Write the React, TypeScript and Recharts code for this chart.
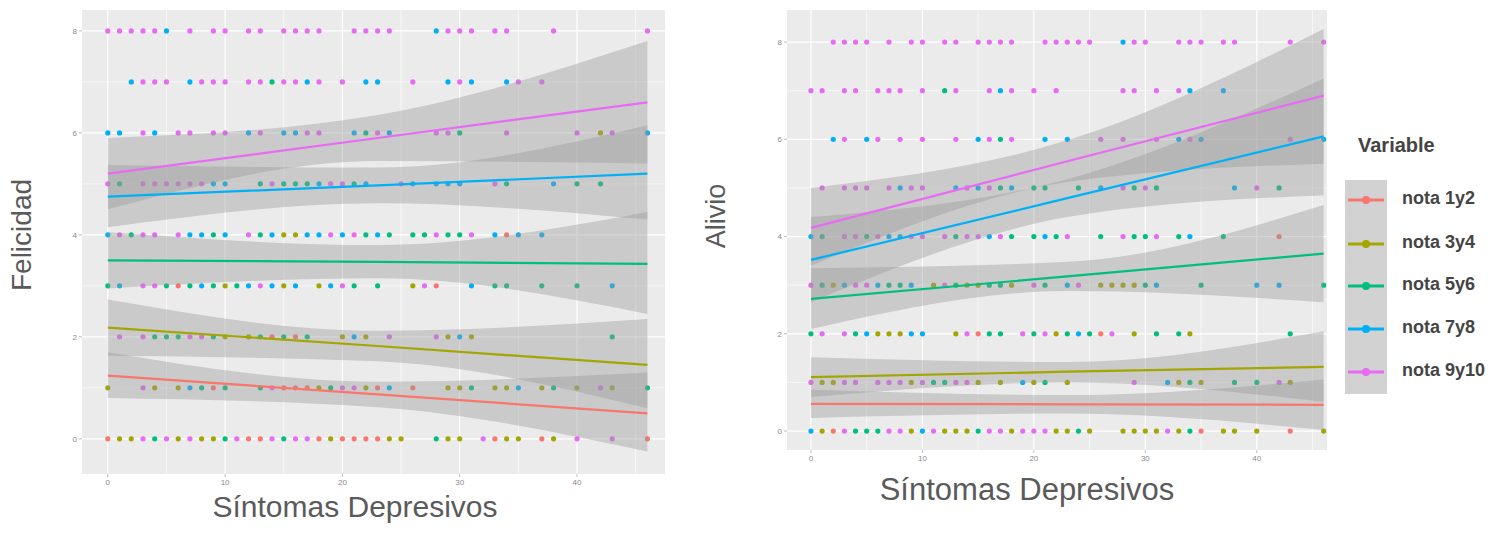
import React from "react";
import {
  ComposedChart,
  Scatter,
  Line,
  Area,
  XAxis,
  YAxis,
  CartesianGrid,
} from "recharts";

// Two ggplot-like panels: points by "Variable" + linear fits with confidence bands

const SERIES = ["nota 1y2", "nota 3y4", "nota 5y6", "nota 7y8", "nota 9y10"];
const KEYS = ["r", "o", "g", "b", "p"];
const COLORS = ["#F8766D", "#A3A500", "#00BF7D", "#00B0F6", "#E76BF3"];

const X_TICKS = [0, 10, 20, 30, 40];
const X_MINOR = [5, 15, 25, 35, 45];
const Y_TICKS = [0, 2, 4, 6, 8];
const Y_MINOR = [1, 3, 5, 7];

// points: "<síntomas><variable>" for each answer level
const felicidadRows: [number, string][] = [
  [8, "0p 1p 2p 3p 4p 5b 7p 9p 10p 12p 13p 15p 16p 17p 18p 21p 22p 23p 24p 28b 29p 30p 31p 33p 34p 38p 46p"],
  [7, "2b 3p 4p 5p 7b 8p 9p 10p 12p 13p 14g 15p 16p 17b 18p 20p 22b 23b 26p 29b 30p 31b 34b 35p 37p"],
  [6, "0b 1b 3p 4b 6p 7p 9p 10p 12b 13p 15b 16b 17p 18p 21b 22g 23p 24b 28p 29p 30g 34p 40p 42o 43p 46b"],
  [5, "0p 1g 3p 4p 5p 6p 7p 8p 9b 10b 13g 14p 15g 16g 17g 18b 19p 20p 21g 22b 25p 26b 28b 29b 30b 33p 34g 38b 40g 42g"],
  [4, "0b 1p 2g 3p 4p 6p 7b 8b 9g 10b 12p 13g 14b 15o 16o 17b 18b 19p 20b 21p 22g 23b 24g 26g 27g 28p 29g 30g 31p 33b 34r 35b 37b"],
  [3, "0g 1b 3p 4p 5g 6r 7g 8b 9g 10o 11g 12b 13p 14b 15o 16b 18o 19b 20p 21g 23g 26o 27p 28r 31b 33g 34g 37g 40g 43b"],
  [2, "1p 3p 4g 5g 6g 7p 8p 9g 10o 12o 13g 14r 15g 16r 17g 20o 21b 22o 24p 28p 29o 30b 31o 43g"],
  [1, "0o 3p 4o 6o 7b 8g 9r 10g 13g 14p 15r 16r 17r 18o 19g 20p 21p 22o 23r 24b 26r 29o 30o 31g 33o 34o 35b 37o 38g 40o 42p 43o 46g"],
  [0, "0r 1o 2o 3p 4g 5p 6o 7p 8o 9o 10g 11p 12r 13r 14p 15g 16p 17p 18r 19o 20r 21r 22r 23r 24o 25o 28g 29o 30o 32p 33r 34o 35o 37r 38o 40p 43p 46r"],
];

const alivioRows: [number, string][] = [
  [8, "2p 3p 4p 5p 7p 9p 10p 12p 13p 15p 16p 17p 18p 21p 22p 23p 24p 25p 28b 29p 30p 33p 34p 35p 37p 38p 43p 46p"],
  [7, "0p 1p 3p 4p 6p 7p 8p 10p 12g 13p 16p 17b 18p 20p 22p 28p 29p 31p 33p 34b 37b"],
  [6, "2b 3p 5b 6p 8p 10p 13p 15b 16p 17g 18p 21b 23b 26p 28p 31p 33b 34p 35b 43p 46b"],
  [5, "1p 3p 4p 5p 7p 8b 9p 10p 13b 14p 15b 16p 17g 18b 20g 21g 24g 26b 28p 29g 30p 31g 38b 40p 42g"],
  [4, "0b 1g 3p 4p 5g 6p 7b 8b 9p 10p 12p 13g 14p 15p 16b 17p 18g 20g 21b 22g 23p 26g 28p 29g 30g 31p 33g 34b 37g 42r"],
  [3, "0p 1g 2o 3b 4p 5p 6b 7g 8g 9b 11o 12p 13g 14o 15o 16g 17g 18o 20p 21g 23b 24p 26o 27o 28o 29o 30g 31b 35g 40b 42b 46g"],
  [2, "0g 1p 3p 4g 5b 6o 7o 8o 9b 10b 13o 14p 15r 16g 17g 19p 20g 21p 22o 23g 24b 25g 26r 27p 29o 31g 33g 34o 43g"],
  [1, "0p 1o 2o 3p 4p 6p 7p 8p 9o 10p 11g 12g 13p 14p 15o 17o 19b 20o 21g 23o 29p 32b 33o 34g 35o 38g 40g 42p 43o"],
  [0, "0b 1o 2r 3p 4g 5g 6g 7p 8p 9o 10b 11p 12o 13o 14o 15g 16p 17p 18o 19p 20p 21p 22o 23o 24g 25o 28o 29o 30o 31o 32p 33o 34g 35r 37o 38o 40o 43r 46o"],
];

// fitted lines and confidence bands read at síntomas = 0, 23, 46 (rows follow SERIES)
const FIT_X = [0, 23, 46];

const felicidadFit = [
  [1.24, 0.87, 0.5],
  [2.18, 1.82, 1.45],
  [3.5, 3.47, 3.43],
  [4.75, 4.97, 5.2],
  [5.2, 5.9, 6.6],
];
const felicidadLow = [
  [0.8, 0.62, -0.25],
  [1.63, 1.52, 0.6],
  [2.95, 3.15, 2.45],
  [4.15, 4.62, 4.3],
  [4.5, 5.45, 5.4],
];
const felicidadHigh = [
  [1.7, 1.12, 1.3],
  [2.73, 2.12, 2.35],
  [4.05, 3.8, 4.45],
  [5.37, 5.32, 6.15],
  [5.9, 6.35, 7.8],
];

const alivioFit = [
  [0.56, 0.55, 0.54],
  [1.11, 1.22, 1.32],
  [2.72, 3.18, 3.65],
  [3.52, 4.79, 6.06],
  [4.18, 5.55, 6.9],
];
const alivioLow = [
  [0.27, 0.36, 0.02],
  [0.7, 1.0, 0.6],
  [2.1, 2.88, 2.65],
  [2.65, 4.4, 4.85],
  [3.4, 5.12, 5.5],
];
const alivioHigh = [
  [0.85, 0.74, 1.06],
  [1.52, 1.42, 2.05],
  [3.35, 3.48, 4.65],
  [4.4, 5.18, 7.25],
  [5.0, 5.98, 8.27],
];

function splitPoints(rows: [number, string][]) {
  const all = rows.flatMap(([y, s]) =>
    s.split(" ").map((t) => ({ x: Number(t.slice(0, -1)), y, k: t.slice(-1) }))
  );
  return KEYS.map((k) => all.filter((d) => d.k === k));
}

function buildTable(fit: number[][], low: number[][], high: number[][]) {
  return FIT_X.map((x, i) => {
    const row: any = { x };
    KEYS.forEach((_, s) => {
      row[`fit${s}`] = fit[s][i];
      row[`band${s}`] = [low[s][i], high[s][i]];
    });
    return row;
  });
}

const tickStyle = { fontSize: 8, fill: "#8a8a8a", fontFamily: "Liberation Sans, Arial, sans-serif" };

function Panel({
  rows,
  fit,
  low,
  high,
  width,
  height,
  margin,
  xDomain,
  yDomain,
}: any) {
  const points = splitPoints(rows);
  const table = buildTable(fit, low, high);
  return (
    <ComposedChart width={width} height={height} data={table} margin={margin}>
      <CartesianGrid
        fill="#EBEBEB"
        stroke="#ffffff"
        strokeWidth={0.6}
        horizontalValues={Y_MINOR}
        verticalValues={X_MINOR}
      />
      <CartesianGrid stroke="#ffffff" strokeWidth={1.2} horizontalValues={Y_TICKS} verticalValues={X_TICKS} />
      <XAxis
        type="number"
        dataKey="x"
        domain={xDomain}
        ticks={X_TICKS}
        allowDataOverflow
        axisLine={false}
        tickSize={3}
        tickMargin={2}
        tickLine={{ stroke: "#bdbdbd" }}
        tick={tickStyle}
        height={20}
      />
      <YAxis
        type="number"
        domain={yDomain}
        ticks={Y_TICKS}
        allowDataOverflow
        axisLine={false}
        tickSize={3}
        tickMargin={2}
        tickLine={{ stroke: "#bdbdbd" }}
        tick={tickStyle}
        width={12}
      />
      {points.map((pts, s) => (
        <Scatter
          key={`pt${s}`}
          data={pts}
          dataKey="y"
          zIndex={50}
          isAnimationActive={false}
          shape={(p: any) => <circle cx={p.cx} cy={p.cy} r={2.6} fill={COLORS[s]} />}
        />
      ))}
      {KEYS.map((_, s) => (
        <Area
          key={`band${s}`}
          dataKey={`band${s}`}
          type="monotone"
          stroke="none"
          fill="#999999"
          fillOpacity={0.4}
          zIndex={100}
          isAnimationActive={false}
        />
      ))}
      {KEYS.map((_, s) => (
        <Line
          key={`fit${s}`}
          dataKey={`fit${s}`}
          type="linear"
          stroke={COLORS[s]}
          strokeWidth={2.2}
          dot={false}
          isAnimationActive={false}
        />
      ))}
    </ComposedChart>
  );
}

const titleFont = "Liberation Sans, Arial, sans-serif";

export default function App() {
  return (
    <div
      style={{
        position: "fixed",
        left: 0,
        top: 0,
        width: 1501,
        height: 536,
        background: "#ffffff",
        overflow: "hidden",
        fontFamily: titleFont,
      }}
    >
      <div style={{ position: "absolute", left: 0, top: 0 }}>
        <Panel
          rows={felicidadRows}
          fit={felicidadFit}
          low={felicidadLow}
          high={felicidadHigh}
          width={700}
          height={536}
          margin={{ top: 10, right: 35, bottom: 42, left: 70 }}
          xDomain={[-2.2, 47.5]}
          yDomain={[-0.69, 8.41]}
        />
      </div>
      <div style={{ position: "absolute", left: 700, top: 0 }}>
        <Panel
          rows={alivioRows}
          fit={alivioFit}
          low={alivioLow}
          high={alivioHigh}
          width={640}
          height={536}
          margin={{ top: 10, right: 13, bottom: 66, left: 75 }}
          xDomain={[-2.15, 46.3]}
          yDomain={[-0.39, 8.66]}
        />
      </div>

      {/* axis titles */}
      <div
        style={{
          position: "absolute",
          left: 22,
          top: 235,
          transform: "translate(-50%, -50%) rotate(-90deg)",
          fontSize: 28,
          color: "#5a5a5a",
          whiteSpace: "nowrap",
        }}
      >
        Felicidad
      </div>
      <div
        style={{
          position: "absolute",
          left: 355,
          top: 507,
          transform: "translate(-50%, -50%)",
          fontSize: 30,
          color: "#5a5a5a",
          whiteSpace: "nowrap",
        }}
      >
        Síntomas Depresivos
      </div>
      <div
        style={{
          position: "absolute",
          left: 716,
          top: 216,
          transform: "translate(-50%, -50%) rotate(-90deg)",
          fontSize: 27,
          color: "#5a5a5a",
          whiteSpace: "nowrap",
        }}
      >
        Alivio
      </div>
      <div
        style={{
          position: "absolute",
          left: 1027,
          top: 490,
          transform: "translate(-50%, -50%)",
          fontSize: 31,
          color: "#5a5a5a",
          whiteSpace: "nowrap",
        }}
      >
        Síntomas Depresivos
      </div>

      {/* legend */}
      <div
        style={{
          position: "absolute",
          left: 1358,
          top: 134,
          fontSize: 20,
          fontWeight: 700,
          color: "#444444",
        }}
      >
        Variable
      </div>
      <div
        style={{
          position: "absolute",
          left: 1345,
          top: 180,
          width: 42,
          height: 214,
          background: "#d2d2d2",
        }}
      />
      {SERIES.map((name, s) => {
        const cy = [200, 244, 286, 329, 372][s];
        return (
          <React.Fragment key={name}>
            <svg
              style={{ position: "absolute", left: 1345, top: cy - 6 }}
              width={42}
              height={12}
            >
              <line x1={3} x2={39} y1={6} y2={6} stroke={COLORS[s]} strokeWidth={3} />
              <circle cx={21} cy={6} r={4} fill={COLORS[s]} />
            </svg>
            <div
              style={{
                position: "absolute",
                left: 1402,
                top: cy - 12,
                fontSize: 18,
                fontWeight: 700,
                color: "#444444",
                whiteSpace: "nowrap",
              }}
            >
              {name}
            </div>
          </React.Fragment>
        );
      })}
    </div>
  );
}
